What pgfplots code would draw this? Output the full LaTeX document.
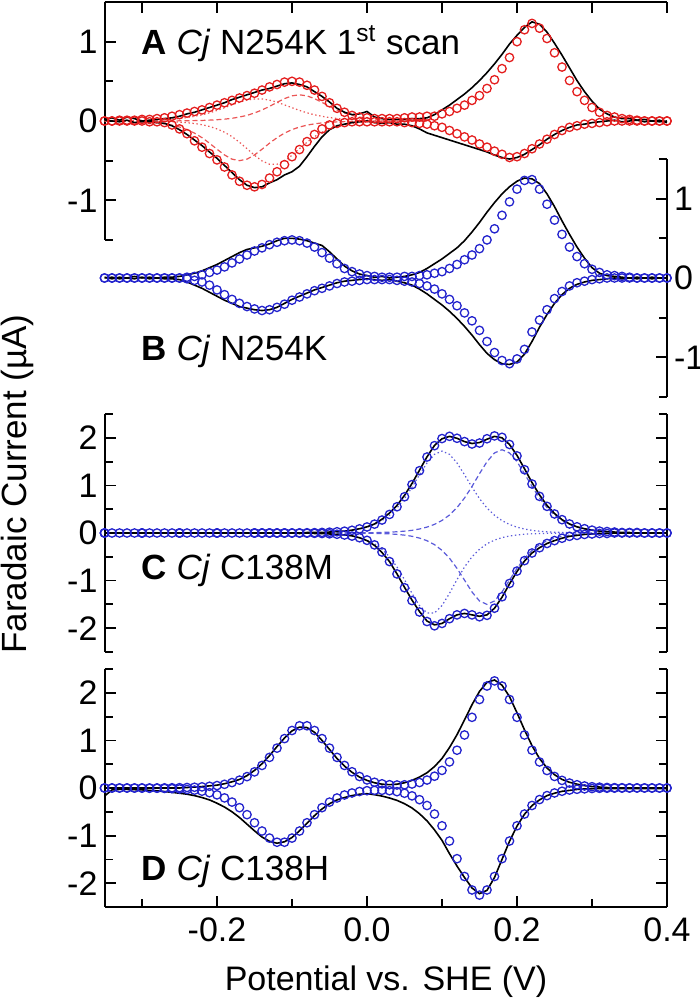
\documentclass[border=0pt]{standalone}
\usepackage{fontspec}
\setmainfont{Liberation Sans}
\usepackage{pgfplots}
\usepackage{pgfplotstable}
\pgfplotsset{compat=1.18}

\definecolor{fitred}{RGB}{228,30,30}
\definecolor{fitblue}{RGB}{35,35,205}

% Panel A: x, circles upper/lower, black upper/lower, dotted/dashed components
\pgfplotstableread{
x cu cl bu bl pu qu pl ql
-0.35 0.00 0.00 0.02 0.01 0.001 0 0 -0.001
-0.34 0.00 0.00 0.04 0.00 0.002 0 0 -0.002
-0.33 0.01 0.00 0.01 -0.01 0.002 0 0 -0.004
-0.32 0.01 0.00 0.05 0.01 0.003 0 0 -0.005
-0.31 0.01 0.00 0.03 -0.02 0.004 0 -0.001 -0.008
-0.30 0.02 0.00 0.00 -0.01 0.006 0.001 -0.002 -0.011
-0.29 0.02 -0.01 0.01 -0.01 0.009 0.001 -0.003 -0.016
-0.28 0.03 -0.01 0.02 -0.02 0.012 0.001 -0.004 -0.024
-0.27 0.04 -0.02 0.03 -0.03 0.017 0.001 -0.007 -0.036
-0.26 0.06 -0.05 0.04 -0.06 0.023 0.001 -0.010 -0.052
-0.25 0.08 -0.10 0.06 -0.11 0.032 0.002 -0.015 -0.076
-0.24 0.10 -0.16 0.09 -0.17 0.043 0.003 -0.021 -0.108
-0.23 0.12 -0.25 0.11 -0.24 0.059 0.005 -0.032 -0.153
-0.22 0.14 -0.33 0.14 -0.31 0.078 0.007 -0.047 -0.210
-0.21 0.17 -0.41 0.17 -0.39 0.103 0.011 -0.069 -0.280
-0.20 0.20 -0.49 0.20 -0.47 0.133 0.016 -0.100 -0.356
-0.19 0.23 -0.58 0.23 -0.56 0.167 0.023 -0.141 -0.428
-0.18 0.26 -0.68 0.27 -0.65 0.203 0.034 -0.197 -0.481
-0.17 0.29 -0.76 0.30 -0.74 0.237 0.050 -0.268 -0.500
-0.16 0.32 -0.81 0.33 -0.81 0.263 0.071 -0.349 -0.481
-0.15 0.35 -0.83 0.36 -0.84 0.278 0.101 -0.432 -0.428
-0.14 0.39 -0.80 0.39 -0.83 0.278 0.139 -0.503 -0.356
-0.13 0.43 -0.72 0.41 -0.78 0.263 0.184 -0.545 -0.280
-0.12 0.46 -0.64 0.44 -0.74 0.237 0.235 -0.545 -0.210
-0.11 0.49 -0.55 0.47 -0.68 0.203 0.282 -0.503 -0.153
-0.10 0.50 -0.45 0.48 -0.64 0.167 0.317 -0.432 -0.108
-0.09 0.49 -0.36 0.46 -0.57 0.133 0.330 -0.349 -0.076
-0.08 0.45 -0.26 0.43 -0.45 0.103 0.317 -0.268 -0.052
-0.07 0.39 -0.17 0.37 -0.32 0.078 0.282 -0.197 -0.036
-0.06 0.31 -0.10 0.31 -0.20 0.059 0.235 -0.141 -0.024
-0.05 0.23 -0.05 0.24 -0.11 0.043 0.184 -0.100 -0.016
-0.04 0.16 -0.03 0.16 -0.06 0.032 0.139 -0.069 -0.011
-0.03 0.11 -0.02 0.11 -0.04 0.023 0.101 -0.047 -0.008
-0.02 0.07 -0.01 0.08 -0.02 0.017 0.071 -0.032 -0.005
-0.01 0.05 -0.01 0.09 -0.01 0.012 0.050 -0.021 -0.004
0.00 0.04 -0.01 0.12 0.00 0.009 0.034 -0.015 -0.002
0.01 0.03 -0.01 0.05 -0.02 0.006 0.023 -0.010 -0.001
0.02 0.03 -0.01 0.03 -0.03 0.004 0.016 -0.007 0
0.03 0.03 -0.01 0.02 -0.02 0.003 0.011 -0.004 0
0.04 0.03 -0.01 0.02 -0.04 0.002 0.007 -0.003 0
0.05 0.04 -0.02 0.02 -0.04 0.002 0.005 -0.002 0
0.06 0.05 -0.02 0.03 -0.06 0.001 0.003 0 0
0.07 0.05 -0.03 0.03 -0.10 0.001 0.002 0 0
0.08 0.06 -0.04 0.04 -0.15 0 0.001 0 0
0.09 0.06 -0.06 0.08 -0.18 0 0 0 0
0.10 0.09 -0.08 0.14 -0.21 0 0 0 0
0.11 0.12 -0.12 0.20 -0.24 0 0 0 0
0.12 0.16 -0.16 0.27 -0.27 0 0 0 0
0.13 0.20 -0.20 0.34 -0.30 0 0 0 0
0.14 0.26 -0.24 0.42 -0.33 0 0 0 0
0.15 0.32 -0.29 0.51 -0.36 0 0 0 0
0.16 0.41 -0.33 0.61 -0.39 0 0 0 0
0.17 0.52 -0.38 0.72 -0.43 0 0 0 0
0.18 0.66 -0.42 0.84 -0.46 0 0 0 0
0.19 0.80 -0.46 0.97 -0.48 0 0 0 0
0.20 1.00 -0.45 1.08 -0.46 0 0 0 0
0.21 1.15 -0.41 1.18 -0.42 0 0 0 0
0.22 1.23 -0.35 1.25 -0.36 0 0 0 0
0.23 1.17 -0.29 1.22 -0.30 0 0 0 0
0.24 1.04 -0.23 1.12 -0.23 0 0 0 0
0.25 0.86 -0.17 0.98 -0.17 0 0 0 0
0.26 0.68 -0.12 0.83 -0.12 0 0 0 0
0.27 0.51 -0.08 0.67 -0.08 0 0 0 0
0.28 0.37 -0.06 0.51 -0.05 0 0 0 0
0.29 0.26 -0.04 0.37 -0.04 0 0 0 0
0.30 0.17 -0.03 0.25 -0.02 0 0 0 0
0.31 0.11 -0.02 0.15 -0.01 0 0 0 0
0.32 0.07 -0.01 0.09 0.00 0 0 0 0
0.33 0.05 0.00 0.05 0.01 0 0 0 0
0.34 0.03 0.00 0.03 -0.01 0 0 0 0
0.35 0.02 0.00 0.03 0.00 0 0 0 0
0.36 0.01 0.00 0.01 0.01 0 0 0 0
0.37 0.00 0.00 0.02 -0.01 0 0 0 0
0.38 0.00 0.00 0.00 0.00 0 0 0 0
0.39 0.00 0.00 0.01 -0.01 0 0 0 0
0.40 0.00 0.00 -0.02 0.00 0 0 0 0
}\tabA

% Panel B
\pgfplotstableread{
x cu cl bu bl
-0.35 0.00 0.00 0.01 0.00
-0.34 0.00 0.00 -0.01 0.01
-0.33 0.00 0.00 0.01 -0.01
-0.32 0.00 0.00 0.00 0.00
-0.31 0.00 0.00 0.02 -0.01
-0.30 0.00 0.00 0.00 0.01
-0.29 0.00 0.00 0.01 -0.01
-0.28 0.00 0.00 0.00 0.00
-0.27 0.00 0.00 0.01 -0.01
-0.26 0.00 0.00 0.01 -0.01
-0.25 0.00 0.00 0.02 -0.02
-0.24 0.01 -0.01 0.04 -0.05
-0.23 0.02 -0.03 0.06 -0.09
-0.22 0.04 -0.05 0.09 -0.13
-0.21 0.07 -0.09 0.13 -0.18
-0.20 0.10 -0.15 0.17 -0.23
-0.19 0.14 -0.21 0.22 -0.28
-0.18 0.19 -0.27 0.27 -0.32
-0.17 0.24 -0.32 0.32 -0.36
-0.16 0.29 -0.36 0.36 -0.38
-0.15 0.34 -0.39 0.38 -0.40
-0.14 0.38 -0.41 0.40 -0.41
-0.13 0.42 -0.40 0.43 -0.40
-0.12 0.45 -0.37 0.47 -0.37
-0.11 0.47 -0.33 0.50 -0.32
-0.10 0.48 -0.28 0.50 -0.27
-0.09 0.47 -0.24 0.49 -0.23
-0.08 0.44 -0.20 0.47 -0.19
-0.07 0.39 -0.16 0.44 -0.15
-0.06 0.32 -0.13 0.41 -0.12
-0.05 0.25 -0.10 0.33 -0.09
-0.04 0.18 -0.07 0.24 -0.06
-0.03 0.12 -0.05 0.15 -0.04
-0.02 0.08 -0.04 0.09 -0.03
-0.01 0.05 -0.03 0.05 -0.02
0.00 0.03 -0.02 0.03 -0.01
0.01 0.02 -0.02 0.01 -0.02
0.02 0.01 -0.02 0.02 -0.03
0.03 0.01 -0.02 0.00 -0.02
0.04 0.01 -0.03 0.01 -0.04
0.05 0.02 -0.04 0.02 -0.06
0.06 0.02 -0.05 0.04 -0.09
0.07 0.03 -0.07 0.07 -0.14
0.08 0.04 -0.10 0.12 -0.20
0.09 0.06 -0.14 0.18 -0.27
0.10 0.08 -0.20 0.24 -0.34
0.11 0.12 -0.27 0.31 -0.42
0.12 0.17 -0.35 0.38 -0.51
0.13 0.23 -0.44 0.47 -0.61
0.14 0.29 -0.54 0.58 -0.72
0.15 0.37 -0.66 0.70 -0.84
0.16 0.48 -0.80 0.83 -0.95
0.17 0.62 -0.94 0.95 -1.03
0.18 0.79 -1.04 1.06 -1.08
0.19 0.96 -1.08 1.15 -1.09
0.20 1.12 -1.02 1.22 -1.06
0.21 1.23 -0.90 1.26 -0.96
0.22 1.24 -0.68 1.25 -0.80
0.23 1.12 -0.53 1.19 -0.62
0.24 0.93 -0.40 1.06 -0.46
0.25 0.73 -0.26 0.90 -0.32
0.26 0.55 -0.17 0.72 -0.21
0.27 0.39 -0.10 0.55 -0.13
0.28 0.27 -0.06 0.39 -0.08
0.29 0.18 -0.04 0.25 -0.05
0.30 0.11 -0.02 0.13 -0.03
0.31 0.07 -0.01 0.06 -0.02
0.32 0.04 0.00 0.03 -0.01
0.33 0.03 0.00 0.02 0.00
0.34 0.02 0.00 0.01 -0.01
0.35 0.01 0.00 0.00 0.00
0.36 0.00 0.00 0.01 -0.01
0.37 0.00 0.00 0.00 0.00
0.38 0.00 0.00 0.01 -0.01
0.39 0.00 0.00 0.00 0.00
0.40 0.00 0.00 0.00 0.00
}\tabB

% Panel C
\pgfplotstableread{
x cu cl bu bl pu qu pl ql
-0.35 0 0 0 0 0 0 0 0
-0.30 0 0 0 0 0 0 0 0
-0.25 0 0 0 0 0 0 0 0
-0.20 0 0 0 0 0 0 0 0
-0.15 0 0 0 0 0 0 0 0
-0.14 0 0 0 0 0 0 0 0
-0.13 0 0 0 0 0 0 0 0
-0.12 0 0 0 0 0 0 0 0
-0.11 0 0 0 0 0 0 0 0
-0.10 0.002 -0.002 0.00 0.00 0.002 0 -0.002 0
-0.09 0.003 -0.003 0.00 -0.01 0.003 0 -0.003 0
-0.08 0.005 -0.004 0.01 0.00 0.005 0 -0.004 0
-0.07 0.007 -0.007 0.01 -0.01 0.007 0 -0.007 0
-0.06 0.012 -0.011 0.01 -0.01 0.012 0 -0.011 0
-0.05 0.017 -0.017 0.02 -0.02 0.017 0 -0.017 0
-0.04 0.026 -0.026 0.03 -0.03 0.026 0 -0.026 0
-0.03 0.038 -0.042 0.04 -0.04 0.038 0.001 -0.041 -0.001
-0.02 0.057 -0.065 0.06 -0.06 0.055 0.002 -0.063 -0.002
-0.01 0.087 -0.100 0.09 -0.10 0.083 0.004 -0.097 -0.003
0.00 0.127 -0.154 0.13 -0.16 0.122 0.005 -0.149 -0.005
0.01 0.186 -0.25 0.19 -0.26 0.179 0.007 -0.226 -0.008
0.02 0.272 -0.40 0.29 -0.41 0.260 0.012 -0.340 -0.012
0.03 0.390 -0.60 0.42 -0.60 0.372 0.018 -0.500 -0.018
0.04 0.551 -0.86 0.58 -0.86 0.525 0.026 -0.714 -0.029
0.05 0.761 -1.15 0.79 -1.14 0.722 0.039 -0.979 -0.045
0.06 1.017 -1.42 1.04 -1.41 0.961 0.056 -1.267 -0.069
0.07 1.309 -1.66 1.32 -1.65 1.225 0.084 -1.525 -0.107
0.08 1.596 -1.86 1.60 -1.85 1.472 0.124 -1.680 -0.162
0.09 1.835 -1.95 1.84 -1.93 1.653 0.182 -1.680 -0.245
0.10 1.984 -1.90 1.98 -1.90 1.720 0.264 -1.525 -0.365
0.11 2.031 -1.80 2.03 -1.80 1.653 0.378 -1.267 -0.530
0.12 1.99 -1.72 1.99 -1.72 1.472 0.534 -0.979 -0.743
0.13 1.92 -1.69 1.92 -1.69 1.225 0.735 -0.714 -0.990
0.14 1.87 -1.72 1.88 -1.72 0.961 0.978 -0.500 -1.239
0.15 1.89 -1.76 1.90 -1.75 0.722 1.246 -0.340 -1.428
0.16 1.98 -1.73 1.97 -1.72 0.525 1.498 -0.226 -1.500
0.17 2.04 -1.58 2.03 -1.58 0.372 1.682 -0.149 -1.428
0.18 2.01 -1.34 2.00 -1.35 0.260 1.750 -0.097 -1.239
0.19 1.86 -1.06 1.86 -1.07 0.179 1.682 -0.063 -0.990
0.20 1.62 -0.80 1.63 -0.81 0.122 1.498 -0.041 -0.743
0.21 1.33 -0.58 1.35 -0.59 0.083 1.246 -0.026 -0.530
0.22 1.03 -0.42 1.06 -0.42 0.055 0.978 -0.017 -0.365
0.23 0.77 -0.31 0.80 -0.31 0.038 0.735 -0.011 -0.245
0.24 0.56 -0.22 0.58 -0.22 0.026 0.534 -0.007 -0.162
0.25 0.40 -0.16 0.41 -0.16 0.017 0.378 -0.004 -0.107
0.26 0.28 -0.11 0.28 -0.11 0.012 0.264 -0.003 -0.069
0.27 0.19 -0.07 0.19 -0.07 0.007 0.182 -0.002 -0.045
0.28 0.13 -0.05 0.13 -0.05 0.005 0.124 -0.001 -0.029
0.29 0.09 -0.03 0.09 -0.03 0.003 0.084 0 -0.018
0.30 0.06 -0.02 0.06 -0.02 0.002 0.056 0 -0.012
0.31 0.04 -0.01 0.04 -0.01 0 0.039 0 -0.008
0.32 0.03 -0.01 0.03 -0.01 0 0.026 0 -0.005
0.33 0.02 0.00 0.02 0.00 0 0.018 0 -0.003
0.34 0.01 0.00 0.01 0.00 0 0.012 0 -0.002
0.35 0.01 0.00 0.01 0.00 0 0.007 0 -0.001
0.36 0.01 0 0 0 0 0.005 0 0
0.37 0 0 0 0 0 0.004 0 0
0.38 0 0 0 0 0 0.002 0 0
0.39 0 0 0 0 0 0.001 0 0
0.40 0 0 0 0 0 0.001 0 0
}\tabC

% circle positions for baseline region of panel C
\pgfplotstableread{
x cu cl
-0.35 0 0
-0.34 0 0
-0.33 0 0
-0.32 0 0
-0.31 0 0
-0.30 0 0
-0.29 0 0
-0.28 0 0
-0.27 0 0
-0.26 0 0
-0.25 0 0
-0.24 0 0
-0.23 0 0
-0.22 0 0
-0.21 0 0
-0.20 0 0
-0.19 0 0
-0.18 0 0
-0.17 0 0
-0.16 0 0
-0.15 0 0
-0.14 0 0
-0.13 0 0
-0.12 0 0
-0.11 0 0
}\tabCbase

% Panel D
\pgfplotstableread{
x cu cl bu bl
-0.35 0 0 0.00 -0.17
-0.34 0 0 0.00 -0.04
-0.33 0 0 0.00 -0.03
-0.32 0 0 0.00 -0.03
-0.31 0 -0.001 0.00 -0.035
-0.30 0.001 -0.002 0.00 -0.04
-0.29 0.001 -0.005 0.00 -0.05
-0.28 0.002 -0.006 0.00 -0.06
-0.27 0.003 -0.009 0.00 -0.075
-0.26 0.005 -0.014 0.00 -0.09
-0.25 0.007 -0.021 0.00 -0.11
-0.24 0.011 -0.031 0.01 -0.13
-0.23 0.016 -0.045 0.02 -0.16
-0.22 0.024 -0.067 0.03 -0.20
-0.21 0.036 -0.099 0.045 -0.25
-0.20 0.051 -0.144 0.06 -0.32
-0.19 0.077 -0.208 0.09 -0.40
-0.18 0.114 -0.296 0.13 -0.50
-0.17 0.165 -0.413 0.18 -0.62
-0.16 0.239 -0.560 0.26 -0.76
-0.15 0.339 -0.730 0.37 -0.90
-0.14 0.474 -0.904 0.51 -1.03
-0.13 0.643 -1.052 0.68 -1.12
-0.12 0.838 -1.139 0.87 -1.16
-0.11 1.038 -1.139 1.05 -1.13
-0.10 1.208 -1.052 1.20 -1.04
-0.09 1.307 -0.904 1.28 -0.90
-0.08 1.307 -0.730 1.27 -0.74
-0.07 1.208 -0.560 1.17 -0.58
-0.06 1.038 -0.413 1.00 -0.44
-0.05 0.838 -0.297 0.81 -0.33
-0.04 0.643 -0.210 0.62 -0.25
-0.03 0.474 -0.147 0.46 -0.20
-0.02 0.341 -0.104 0.33 -0.16
-0.01 0.242 -0.074 0.23 -0.13
0.00 0.170 -0.056 0.16 -0.12
0.01 0.121 -0.049 0.11 -0.14
0.02 0.088 -0.048 0.08 -0.17
0.03 0.069 -0.057 0.07 -0.21
0.04 0.063 -0.077 0.08 -0.26
0.05 0.067 -0.110 0.11 -0.33
0.06 0.084 -0.165 0.16 -0.42
0.07 0.115 -0.245 0.23 -0.54
0.08 0.167 -0.368 0.32 -0.69
0.09 0.248 -0.547 0.45 -0.88
0.10 0.370 -0.794 0.62 -1.10
0.11 0.548 -1.114 0.85 -1.38
0.12 0.794 -1.485 1.12 -1.64
0.13 1.114 -1.859 1.43 -1.88
0.14 1.485 -2.142 1.75 -2.10
0.15 1.859 -2.250 2.03 -2.22
0.16 2.142 -2.142 2.22 -2.15
0.17 2.250 -1.859 2.27 -1.88
0.18 2.142 -1.485 2.16 -1.50
0.19 1.859 -1.114 1.92 -1.12
0.20 1.485 -0.794 1.58 -0.80
0.21 1.114 -0.547 1.22 -0.55
0.22 0.794 -0.367 0.89 -0.37
0.23 0.547 -0.243 0.62 -0.25
0.24 0.367 -0.160 0.42 -0.16
0.25 0.243 -0.104 0.28 -0.11
0.26 0.160 -0.068 0.18 -0.07
0.27 0.104 -0.043 0.12 -0.05
0.28 0.068 -0.027 0.08 -0.03
0.29 0.043 -0.018 0.05 -0.02
0.30 0.027 -0.011 0.03 -0.015
0.31 0.018 -0.007 0.02 -0.01
0.32 0.011 -0.005 0.01 -0.01
0.33 0.007 -0.003 0.00 -0.01
0.34 0.005 -0.002 0.00 -0.01
0.35 0.003 -0.001 0.00 -0.01
0.36 0.002 0 0.00 -0.01
0.37 0.001 0 0.00 -0.01
0.38 0 0 0.00 -0.01
0.39 0 0 0.00 -0.01
0.40 0 0 0.00 -0.01
}\tabD

\pgfplotsset{
  cvbase/.style={
    scale only axis, width=281.25pt, height=119pt,
    xmin=-0.35, xmax=0.4,
    every tick/.style={black, line width=0.9pt},
    major tick length=5.5pt, minor tick length=4pt,
    tick label style={font=\fontsize{17}{17}\selectfont},
  },
  noarrows/.style={
    axis line style={-, line width=1pt},
    every outer x axis line/.append style={-},
    every outer y axis line/.append style={-},
    every inner x axis line/.append style={-},
    every inner y axis line/.append style={-},
  },
  fitmarks/.style={only marks, mark=o, mark size=2.1pt, mark options={line width=0.65pt}},
  dataline/.style={black, line width=0.8pt, no markers},
  compdash/.style={line width=0.6pt, dash pattern=on 2.5pt off 1.5pt, no markers},
  compdot/.style={line width=0.6pt, dash pattern=on 0.7pt off 1.3pt, no markers},
}
\tikzset{plab/.style={anchor=base west, font=\fontsize{17.5}{17.5}\selectfont}}

\begin{document}
\begin{tikzpicture}
% ---------- Panel A ----------
\begin{axis}[cvbase, at={(52.25pt,381pt)}, anchor=south west,
  ymin=-1.5, ymax=1.5,
  axis x line*=top, axis y line*=left,
  tick align=inside,
  xtick={-0.3,-0.2,-0.1,0,0.1,0.2,0.3,0.4}, xticklabels={},
  ytick={-1,0,1}, yticklabels={-1,0,1},
  minor ytick={-1.5,-0.5,0.5,1.5},
  noarrows,
]
\addplot[compdot, fitred!75, restrict x to domain=-0.35:0.08] table[x=x,y=pu]{\tabA};
\addplot[compdash, fitred!75, restrict x to domain=-0.35:0.08] table[x=x,y=qu]{\tabA};
\addplot[compdot, fitred!75, restrict x to domain=-0.35:0.08] table[x=x,y=pl]{\tabA};
\addplot[compdash, fitred!75, restrict x to domain=-0.35:0.08] table[x=x,y=ql]{\tabA};
\addplot[dataline] table[x=x,y=bu]{\tabA};
\addplot[dataline] table[x=x,y=bl]{\tabA};
\addplot[fitmarks, fitred] table[x=x,y=cu]{\tabA};
\addplot[fitmarks, fitred] table[x=x,y=cl]{\tabA};
\node[plab] at (axis cs:-0.31,0.84) {\textbf{A} \textit{Cj} N254K 1\textsuperscript{st} scan};
\end{axis}
% ---------- Panel B ----------
\begin{axis}[cvbase, at={(52.25pt,302.5pt)}, anchor=south west,
  ymin=-1.5, ymax=1.5,
  axis x line=none, axis y line*=right, yticklabel pos=right,
  tick align=inside, xtick=\empty,
  ytick={-1,0,1}, yticklabels={-1,0,1},
  minor ytick={-1.5,-0.5,0.5,1.5},
  noarrows,
]
\addplot[dataline] table[x=x,y=bu]{\tabB};
\addplot[dataline] table[x=x,y=bl]{\tabB};
\addplot[fitmarks, fitblue] table[x=x,y=cu]{\tabB};
\addplot[fitmarks, fitblue] table[x=x,y=cl]{\tabB};
\node[plab] at (axis cs:-0.31,-1.04) {\textbf{B} \textit{Cj} N254K};
\end{axis}
% ---------- Panel C ----------
\begin{axis}[cvbase, at={(52.25pt,175pt)}, anchor=south west,
  ymin=-2.5, ymax=2.5,
  axis x line=none, axis y line=box,
  tick align=inside, xtick=\empty,
  ytick={-2,-1,0,1,2}, yticklabels={-2,-1,0,1,2},
  minor ytick={-2.5,-1.5,-0.5,0.5,1.5,2.5},
  noarrows,
]
\addplot[compdot, fitblue!75] table[x=x,y=pu]{\tabC};
\addplot[compdash, fitblue!75] table[x=x,y=qu]{\tabC};
\addplot[compdot, fitblue!75] table[x=x,y=pl]{\tabC};
\addplot[compdash, fitblue!75] table[x=x,y=ql]{\tabC};
\addplot[dataline] table[x=x,y=bu]{\tabC};
\addplot[dataline] table[x=x,y=bl]{\tabC};
\addplot[fitmarks, fitblue] table[x=x,y=cu]{\tabCbase};
\addplot[fitmarks, fitblue] table[x=x,y=cu]{\tabC};
\addplot[fitmarks, fitblue] table[x=x,y=cl]{\tabC};
\node[plab] at (axis cs:-0.31,-0.98) {\textbf{C} \textit{Cj} C138M};
\end{axis}
% ---------- Panel D ----------
\begin{axis}[cvbase, at={(52.25pt,47.5pt)}, anchor=south west,
  ymin=-2.5, ymax=2.5,
  axis x line=bottom, axis y line=box,
  tick align=inside,
  xtick={-0.2,0,0.2,0.4}, xticklabels={-0.2,0.0,0.2,0.4},
  minor xtick={-0.3,-0.1,0.1,0.3},
  xticklabel style={yshift=-2pt},
  ytick={-2,-1,0,1,2}, yticklabels={-2,-1,0,1,2},
  minor ytick={-2.5,-1.5,-0.5,0.5,1.5,2.5},
  noarrows,
]
\addplot[dataline] table[x=x,y=bu]{\tabD};
\addplot[dataline] table[x=x,y=bl]{\tabD};
\addplot[fitmarks, fitblue] table[x=x,y=cu]{\tabD};
\addplot[fitmarks, fitblue] table[x=x,y=cl]{\tabD};
\node[plab] at (axis cs:-0.31,-1.95) {\textbf{D} \textit{Cj} C138H};
\end{axis}
% ---------- axis titles ----------
\node[font=\fontsize{17}{17}\selectfont] at (193pt,10pt) {Potential vs. SHE (V)};
\node[rotate=90, font=\fontsize{17.5}{17.5}\selectfont] at (8.5pt,259pt) {Faradaic Current (µA)};
\pgfresetboundingbox
\useasboundingbox (0,0) rectangle (350pt,501pt);
\end{tikzpicture}
\end{document}
